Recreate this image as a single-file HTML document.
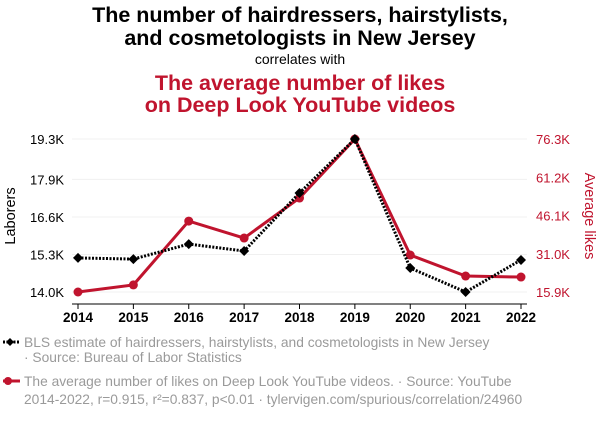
<!DOCTYPE html>
<html><head><meta charset="utf-8"><style>
body{margin:0;background:#fff;width:600px;height:420px;overflow:hidden;font-family:"Liberation Sans",sans-serif}
svg text{font-family:"Liberation Sans",sans-serif}
</style></head><body>
<svg width="600" height="420">
<text x="300" y="22" text-anchor="middle" font-size="21.5" font-weight="bold" fill="#000">The number of hairdressers, hairstylists,</text>
<text x="300" y="45" text-anchor="middle" font-size="21.5" font-weight="bold" fill="#000">and cosmetologists in New Jersey</text>
<text x="300" y="64" text-anchor="middle" font-size="14" fill="#000">correlates with</text>
<text x="300" y="90" text-anchor="middle" font-size="21.5" font-weight="bold" fill="#c0142e">The average number of likes</text>
<text x="300" y="112" text-anchor="middle" font-size="21.5" font-weight="bold" fill="#c0142e">on Deep Look YouTube videos</text>
<g id="grid"></g><g id="axes"></g><g id="marks"></g>
<text transform="translate(15,216) rotate(-90)" text-anchor="middle" font-size="14.5" fill="#000">Laborers</text>
<text transform="translate(585,216) rotate(90)" text-anchor="middle" font-size="14.5" fill="#c0142e">Average likes</text>
<g>
<line x1="3" y1="342" x2="20" y2="342" stroke="#000" stroke-width="3" stroke-dasharray="2,1.5"/>
<path d="M6,342 l4,-4 4,4 -4,4z" fill="#000"/>
<text x="24" y="347" font-size="13.8" fill="#9a9a9a">BLS estimate of hairdressers, hairstylists, and cosmetologists in New Jersey</text>
<text x="24" y="362" font-size="13.8" fill="#9a9a9a">· Source: Bureau of Labor Statistics</text>
</g>
<g>
<line x1="3" y1="381" x2="20" y2="381" stroke="#c0142e" stroke-width="3"/>
<circle cx="8" cy="381" r="4" fill="#c0142e"/>
<text x="24" y="386" font-size="13.8" fill="#9a9a9a">The average number of likes on Deep Look YouTube videos. · Source: YouTube</text>
<text x="24" y="404" font-size="13.8" fill="#9a9a9a">2014-2022, r=0.915, r²=0.837, p&lt;0.01 · tylervigen.com/spurious/correlation/24960</text>
</g>
</svg>
<script>
const years=[2014,2015,2016,2017,2018,2019,2020,2021,2022];
const laborers=[15.18,15.14,15.66,15.42,17.43,19.3,14.83,14.0,15.11];
const likes=[15.9,18.7,43.9,37.2,53.0,76.3,30.5,22.2,21.8];
const leftTicks=[14.0,15.3,16.6,17.9,19.3];
const rightTicks=[15.9,31.0,46.1,61.2,76.3];
const NS='http://www.w3.org/2000/svg';
const x=i=>78+(521-78)*(years[i]-2014)/8;
const yl=v=>292-(v-14.0)/(19.3-14.0)*153;
const yr=v=>292-(v-15.9)/(76.3-15.9)*153;
function mk(t,a,p){const e=document.createElementNS(NS,t);for(const k in a)e.setAttribute(k,a[k]);p.appendChild(e);return e;}
const grid=document.getElementById('grid'),axes=document.getElementById('axes'),marks=document.getElementById('marks');
leftTicks.forEach((v,i)=>{
 const g=mk('line',{x1:72,x2:527,y1:yl(v),y2:yl(v),stroke:'#f0f0f0','stroke-width':1},grid);
 
 
 const t=mk('text',{x:64,y:yl(v)+5,'text-anchor':'end','font-size':13,fill:'#000'},axes);t.textContent=v.toFixed(1)+'K';
 
 
});
rightTicks.forEach(v=>{
 const t=mk('text',{x:536,y:yr(v)+5,'font-size':13,fill:'#c0142e'},axes);t.textContent=v.toFixed(1)+'K';
 
 
});
mk('line',{x1:72,x2:527,y1:304,y2:304,stroke:'#000','stroke-width':1},axes);
years.forEach((yv,i)=>{
 mk('line',{x1:x(i),x2:x(i),y1:304,y2:309,stroke:'#000'},axes);
 const t=mk('text',{x:x(i),y:322,'text-anchor':'middle','font-size':13.5,'font-weight':'bold',fill:'#000'},axes);t.textContent=yv;
 
 
});
const rl=mk('polyline',{points:likes.map((v,i)=>x(i)+','+yr(v)).join(' '),fill:'none',stroke:'#c0142e','stroke-width':3},marks);


likes.forEach((v,i)=>{const c=mk('circle',{cx:x(i),cy:yr(v),r:4.5,fill:'#c0142e'},marks);
 
 });
const bl=mk('polyline',{points:laborers.map((v,i)=>x(i)+','+yl(v)).join(' '),fill:'none',stroke:'#000','stroke-width':3,'stroke-dasharray':'2,1.5'},marks);


laborers.forEach((v,i)=>{const px=x(i),py=yl(v);const d=mk('path',{d:`M${px-5},${py} L${px},${py-5} L${px+5},${py} L${px},${py+5}Z`,fill:'#000'},marks);
 
 });
</script>
</body></html>
